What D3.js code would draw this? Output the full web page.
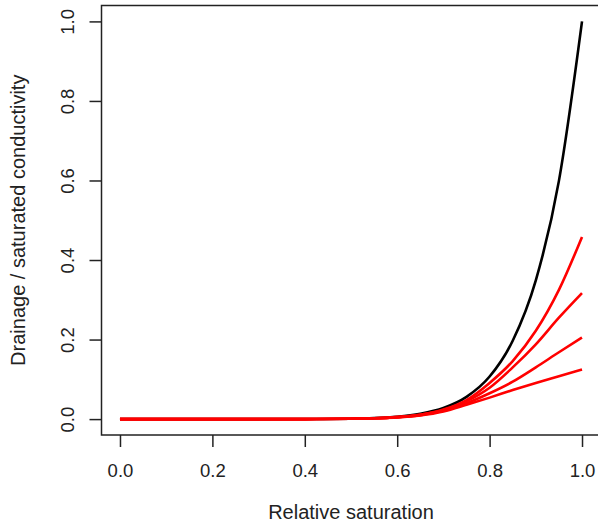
<!DOCTYPE html>
<html>
<head>
<meta charset="utf-8">
<script src="https://cdn.jsdelivr.net/npm/d3@7"></script>
<style>
  body { margin: 0; background: #fff; }
  text { font-family: "Liberation Sans", Arial, sans-serif; fill: #222; }
</style>
</head>
<body>
<div id="chart"></div>
<script>
// Relative saturation sample points
var saturation = [0, 0.1, 0.2, 0.3, 0.4, 0.5, 0.55, 0.6, 0.65, 0.7, 0.75, 0.8, 0.85, 0.9, 0.95, 1.0];

// Saturated model (black) and the four red drainage curves
var blackCurve = [0, 0, 0, 0, 0.0001, 0.001, 0.0025, 0.006, 0.0135, 0.028, 0.056, 0.107, 0.197, 0.349, 0.599, 1.0];
var redCurves = [
  [0, 0, 0, 0, 0, 0.001, 0.002, 0.005, 0.011, 0.024, 0.048, 0.091, 0.146, 0.222, 0.325, 0.458],
  [0, 0, 0, 0, 0, 0.001, 0.002, 0.005, 0.011, 0.023, 0.045, 0.079, 0.130, 0.188, 0.255, 0.317],
  [0, 0, 0, 0, 0, 0.001, 0.002, 0.005, 0.010, 0.021, 0.040, 0.065, 0.094, 0.130, 0.168, 0.205],
  [0, 0, 0, 0, 0, 0.001, 0.002, 0.004, 0.009, 0.019, 0.036, 0.054, 0.073, 0.091, 0.108, 0.125]
];

var xTicks = [0, 0.2, 0.4, 0.6, 0.8, 1.0];
var yTicks = [0, 0.2, 0.4, 0.6, 0.8, 1.0];

var width = 598, height = 530;
var box = { left: 101.5, right: 600.5, top: 5.5, bottom: 435 };

var svg = d3.select('#chart').append('svg')
  .attr('width', width)
  .attr('height', height);

// R-style 4% extension of the data range on both axes
var x = d3.scaleLinear().domain([-0.04, 1.04]).range([box.left, box.right]);
var y = d3.scaleLinear().domain([-0.04, 1.04]).range([box.bottom, box.top]);

var fmt = d3.format('.1f');

// x axis
var xAxis = d3.axisBottom(x).tickValues(xTicks).tickFormat(fmt).tickSize(12).tickSizeOuter(0);
var gx = svg.append('g').attr('transform', 'translate(0,' + box.bottom + ')').call(xAxis);
gx.select('.domain').remove();
gx.selectAll('.tick line').attr('stroke', '#222').attr('stroke-width', 1.5);
gx.selectAll('.tick text')
  .attr('y', 42).attr('dy', 0)
  .style('font-size', '18.5px').attr('fill', '#222');

// y axis, labels rotated like R's las = 0
var yAxis = d3.axisLeft(y).tickValues(yTicks).tickFormat(fmt).tickSize(12).tickSizeOuter(0);
var gy = svg.append('g').attr('transform', 'translate(' + box.left + ',0)').call(yAxis);
gy.select('.domain').remove();
gy.selectAll('.tick line').attr('stroke', '#222').attr('stroke-width', 1.5);
gy.selectAll('.tick text')
  .attr('x', 0).attr('dy', 0)
  .attr('text-anchor', 'middle')
  .attr('transform', 'translate(-28,0) rotate(-90)')
  .style('font-size', '18.5px').attr('fill', '#222');

// plot frame
svg.append('rect')
  .attr('x', box.left).attr('y', box.top)
  .attr('width', box.right - box.left).attr('height', box.bottom - box.top)
  .attr('fill', 'none').attr('stroke', '#222').attr('stroke-width', 1.5);

// axis titles
svg.append('text')
  .attr('x', (box.left + box.right) / 2).attr('y', 519)
  .attr('text-anchor', 'middle')
  .style('font-size', '20px')
  .text('Relative saturation');

svg.append('text')
  .attr('transform', 'translate(25,' + (box.top + box.bottom) / 2 + ') rotate(-90)')
  .attr('text-anchor', 'middle')
  .style('font-size', '20px')
  .text('Drainage / saturated conductivity');

// curves
var line = d3.line()
  .x(function(d) { return x(d[0]); })
  .y(function(d) { return y(d[1]); })
  .curve(d3.curveMonotoneX);

var pair = function(vals) { return saturation.map(function(s, i) { return [s, vals[i]]; }); };

svg.append('path')
  .attr('d', line(pair(blackCurve)))
  .attr('fill', 'none').attr('stroke', '#000').attr('stroke-width', 2.6);

svg.selectAll('path.red').data(redCurves).enter()
  .append('path').classed('red', true)
  .attr('d', function(d) { return line(pair(d)); })
  .attr('fill', 'none').attr('stroke', '#ff0000').attr('stroke-width', 2.6);
</script>
</body>
</html>
